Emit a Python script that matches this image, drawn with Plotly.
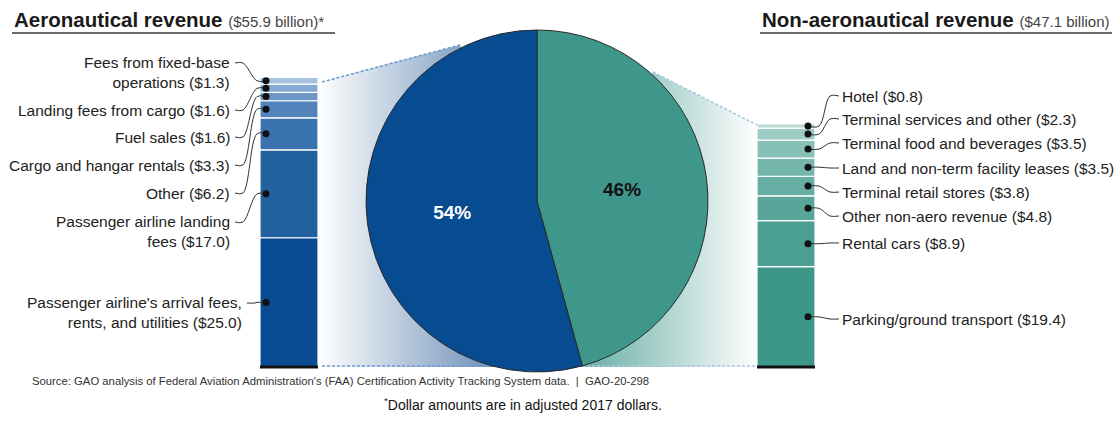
import numpy as np
import plotly.graph_objects as go

# revenue pieces in $ billions, listed from the bottom of each bar upward
aero_names = [
    "Passenger airline's arrival fees,<br>rents, and utilities",
    "Passenger airline landing<br>fees",
    "Other",
    "Cargo and hangar rentals",
    "Fuel sales",
    "Landing fees from cargo",
    "Fees from fixed-base<br>operations",
]
aero_values = [25.0, 17.0, 6.2, 3.3, 1.6, 1.6, 1.3]

nonaero_names = [
    "Parking/ground transport",
    "Rental cars",
    "Other non-aero revenue",
    "Terminal retail stores",
    "Land and non-term facility leases",
    "Terminal food and beverages",
    "Terminal services and other",
    "Hotel",
]
nonaero_values = [19.4, 8.9, 4.8, 3.8, 3.5, 3.5, 2.3, 0.8]

pie_labels = ["Non-aeronautical revenue", "Aeronautical revenue"]
pie_totals = [47.1, 55.9]

aero_colors = ["#0a4c93", "#22609f", "#3a73b0", "#5283bb", "#6b96c6", "#86aad3", "#a6c2e0"]
nonaero_colors = ["#3d968a", "#4b9e92", "#58a69b", "#66aea4", "#74b6ac", "#86c0b7", "#9dccc5", "#b7dad5"]
BLUE, TEAL = "#074b91", "#3f978b"

W, H = 1120, 425
BASE_PX = 367      # pixel row of the bars' baseline
PX_PER_B = 5.17    # pixels per $1 billion


def yv(px):
    return (BASE_PX - px) / PX_PER_B


LEFT_X, RIGHT_X, BAR_W = 289, 786, 58
PIE_CX, PIE_CY, PIE_R = 537, 201, 171

FONT = "Liberation Sans, Arial, sans-serif"
TXT = "#222222"

fig = go.Figure()

# gradient wedges joining the bars to the pie
fig.add_trace(go.Scatter(
    x=[318, 460, PIE_CX, PIE_CX, 318],
    y=[yv(82), yv(45), yv(PIE_CY), yv(367), yv(367)],
    fill="toself", mode="none",
    fillgradient=dict(type="horizontal", colorscale=[[0, "#ffffff"], [1, "#4b75a8"]]),
    hoverinfo="skip", showlegend=False,
))
fig.add_trace(go.Scatter(
    x=[PIE_CX, 653, 757, 757, PIE_CX],
    y=[yv(PIE_CY), yv(72), yv(125), yv(367), yv(367)],
    fill="toself", mode="none",
    fillgradient=dict(type="horizontal", colorscale=[[0, "#3f998c"], [1, "#ffffff"]]),
    hoverinfo="skip", showlegend=False,
))
for xs, ys, col in [
    ([322, 460], [82, 45], "#6f9bd0"),
    ([322, PIE_CX], [366, 366], "#6f9bd0"),
    ([PIE_CX, 757], [366, 366], "#a9c9ea"),
    ([653, 757], [72, 125], "#a9c9ea"),
]:
    fig.add_trace(go.Scatter(
        x=xs, y=[yv(p) for p in ys], mode="lines",
        line=dict(color=col, width=1.6, dash="3px,2px"),
        hoverinfo="skip", showlegend=False,
    ))

# stacked bars
for xc, vals, cols in [(LEFT_X, aero_values, aero_colors), (RIGHT_X, nonaero_values, nonaero_colors)]:
    base = np.concatenate([[0], np.cumsum(vals)[:-1]])
    fig.add_trace(go.Bar(
        x=[xc] * len(vals), y=vals, base=base, width=BAR_W,
        marker=dict(color=cols, line=dict(color="white", width=1.2)),
        hoverinfo="skip", showlegend=False,
    ))
    fig.add_shape(type="line", x0=xc - BAR_W / 2, x1=xc + BAR_W / 2, y0=0, y1=0,
                  line=dict(color="#111111", width=3))


def leader(x_pts, y_pts):
    fig.add_trace(go.Scatter(
        x=x_pts, y=y_pts, mode="lines", line=dict(color="#333333", width=1, shape="spline"),
        hoverinfo="skip", showlegend=False,
    ))


# left labels: pixel row of the line the leader starts from
aero_label_px = [303, 222, 193, 165, 137, 110, 63]
aero_mid = np.cumsum(aero_values) - np.array(aero_values) / 2
for name, v, mid, lp in zip(aero_names, aero_values, aero_mid, aero_label_px):
    nlines = name.count("<br>") + 1
    text_right = 244 if name.startswith("Passenger airline's") else 232
    fig.add_annotation(
        x=text_right, y=yv(lp + (nlines - 1) * 9.5), xref="x", yref="y",
        text=f"{name} (${v:.1f})", showarrow=False, xanchor="right", yanchor="middle",
        align="right", font=dict(family=FONT, size=15.5, color=TXT),
    )
    leader([text_right + 3, text_right + 11, 257, 266], [yv(lp), yv(lp), mid, mid])
fig.add_trace(go.Scatter(
    x=[266] * len(aero_mid), y=aero_mid, mode="markers",
    marker=dict(color="#111111", size=7), hoverinfo="skip", showlegend=False,
))

# right labels
nonaero_label_px = [319, 243, 216, 192, 168, 143, 119, 96]
nonaero_mid = np.cumsum(nonaero_values) - np.array(nonaero_values) / 2
for name, v, mid, lp in zip(nonaero_names, nonaero_values, nonaero_mid, nonaero_label_px):
    fig.add_annotation(
        x=840, y=yv(lp), xref="x", yref="y",
        text=f"{name} (${v:.1f})", showarrow=False, xanchor="left", yanchor="middle",
        font=dict(family=FONT, size=15.5, color=TXT),
    )
    leader([808, 819, 830, 839], [mid, mid, yv(lp), yv(lp)])
fig.add_trace(go.Scatter(
    x=[808] * len(nonaero_mid), y=nonaero_mid, mode="markers",
    marker=dict(color="#111111", size=7), hoverinfo="skip", showlegend=False,
))

# pie of the two totals
fig.add_trace(go.Pie(
    values=pie_totals, labels=pie_labels, sort=False, direction="clockwise", rotation=0,
    domain=dict(x=[(PIE_CX - PIE_R) / W, (PIE_CX + PIE_R) / W],
                y=[1 - (PIE_CY + PIE_R) / H, 1 - (PIE_CY - PIE_R) / H]),
    marker=dict(colors=[TEAL, BLUE], line=dict(color="#2a2a2a", width=1)),
    texttemplate="<b>%{percent:.0%}</b>", textposition="inside",
    insidetextorientation="horizontal",
    textfont=dict(family=FONT, size=19, color=["#111111", "#ffffff"]),
    hoverinfo="skip", showlegend=False,
))

# titles
for x0, x1, title, sub in [
    (12, 335, "Aeronautical revenue", "($55.9 billion)*"),
    (760, 1112, "Non-aeronautical revenue", "($47.1 billion)"),
]:
    fig.add_annotation(
        x=x0, y=yv(19), xref="x", yref="y", xanchor="left", yanchor="middle", showarrow=False,
        text=f"<b>{title}</b> <span style='font-size:15px;color:#444444'>{sub}</span>",
        font=dict(family=FONT, size=20.5, color="#1a1a1a"),
    )
    fig.add_shape(type="line", x0=x0, x1=x1, y0=yv(33), y1=yv(33),
                  line=dict(color="#6a6a6a", width=2))

fig.add_annotation(
    x=30, y=yv(381), xref="x", yref="y", xanchor="left", yanchor="middle", showarrow=False,
    text="Source: GAO analysis of Federal Aviation Administration's (FAA) Certification Activity "
         "Tracking System data.  |  GAO-20-298",
    font=dict(family=FONT, size=11.3, color="#333333"),
)
fig.add_annotation(
    x=523, y=yv(404), xref="x", yref="y", xanchor="center", yanchor="middle", showarrow=False,
    text="<sup>*</sup>Dollar amounts are in adjusted 2017 dollars.",
    font=dict(family=FONT, size=14, color="#111111"),
)

fig.update_layout(
    width=W, height=H, margin=dict(l=0, r=0, t=0, b=0),
    paper_bgcolor="white", plot_bgcolor="white",
    barmode="overlay", hovermode=False,
    xaxis=dict(range=[0, W], visible=False, fixedrange=True),
    yaxis=dict(range=[yv(H), yv(0)], visible=False, fixedrange=True),
)

# the page's default body margin would push the figure 8px off the window
fig.write_html("out.html", config={"displayModeBar": False},
               post_script="document.body.style.margin='0';")
